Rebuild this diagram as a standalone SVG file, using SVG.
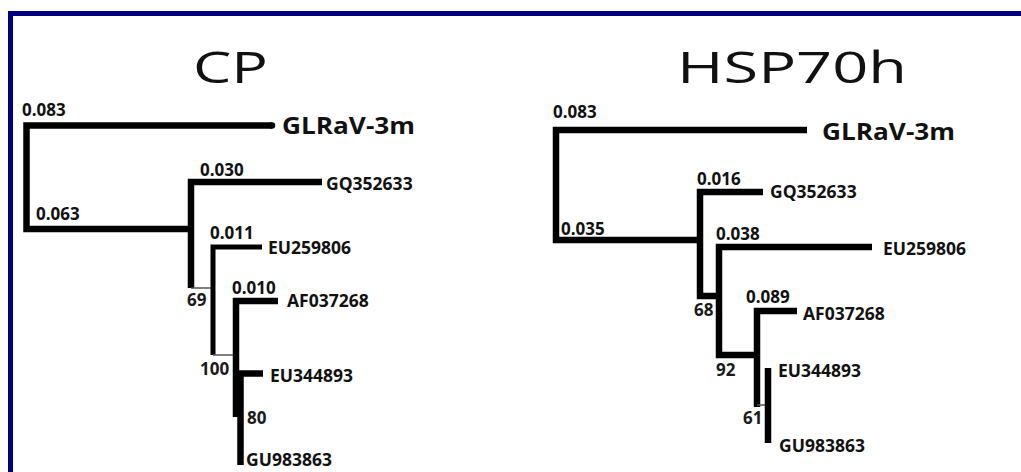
<svg xmlns="http://www.w3.org/2000/svg" width="1021" height="472" viewBox="0 0 1021 472">
<style>
.bg{fill:#ffffff}
.frame{fill:none;stroke:#00007f;stroke-width:5}
.br{fill:none;stroke:#000;stroke-width:6.5;stroke-linecap:butt;stroke-linejoin:miter}
.thin{fill:none;stroke:#555;stroke-width:1.5}
.title{font-family:"Open Sans","Liberation Sans",sans-serif;font-size:43px;font-weight:400;fill:#111}
.big{font-family:"Open Sans","Liberation Sans",sans-serif;font-size:24px;font-weight:700;fill:#111}
.lf{font-family:"Open Sans","Liberation Sans",sans-serif;font-size:17.5px;font-weight:700;fill:#111}
.len{font-family:"Open Sans","Liberation Sans",sans-serif;font-size:17px;font-weight:700;fill:#111}
.bs{font-family:"Open Sans","Liberation Sans",sans-serif;font-size:17px;font-weight:700;fill:#1a1a1a}
</style>
<rect class="bg" x="0" y="0" width="1021" height="472"/>
<rect class="frame" x="10.5" y="13.5" width="1100" height="500"/>

<g id="connectors">
  <!-- CP tree -->
  <path class="br" d="M272,125.5 H26.5 V229 H191"/>
  <path class="br" d="M322,182 H191 V288"/>
  <path class="thin" d="M191,288 H213"/>
  <path class="br" style="stroke-width:5" d="M262,247 H213 V355"/>
  <path class="thin" d="M213,355 H236"/>
  <path class="br" d="M278,301 H236 V417"/>
  <path class="br" d="M263,373.5 H240.5 V465"/>
  <circle cx="272" cy="125.5" r="3.25" fill="#000"/>
  <!-- HSP70h tree -->
  <path class="br" d="M807,130 H556 V240 H700"/>
  <path class="br" d="M763,192 H700 V296 H719"/>
  <path class="br" d="M872,247 H719 V355 H757"/>
  <path class="br" d="M797,311 H757 V407"/>
  <path class="thin" d="M757,405 H768"/>
  <path class="br" d="M768,368 V443"/>
</g>

<g id="title-cp"><text class="title" x="193" y="83" textLength="75" lengthAdjust="spacingAndGlyphs">CP</text></g>
<g id="title-hsp"><text class="title" x="677" y="83" textLength="230" lengthAdjust="spacingAndGlyphs">HSP70h</text></g>

<g id="cp-glrav"><text class="big" x="282" y="134" textLength="133" lengthAdjust="spacingAndGlyphs">GLRaV-3m</text></g>
<g id="cp-gq"><text class="lf" x="326" y="190">GQ352633</text></g>
<g id="cp-eu259"><text class="lf" x="268" y="254">EU259806</text></g>
<g id="cp-af"><text class="lf" x="287" y="307">AF037268</text></g>
<g id="cp-eu344"><text class="lf" x="270" y="382">EU344893</text></g>
<g id="cp-gu"><text class="lf" x="246" y="466">GU983863</text></g>
<g id="cp-lengths">
  <text class="len" x="22" y="116">0.083</text>
  <text class="len" x="36" y="220">0.063</text>
  <text class="len" x="200" y="176">0.030</text>
  <text class="len" x="210" y="239">0.011</text>
  <text class="len" x="232" y="294">0.010</text>
</g>
<g id="cp-bootstrap">
  <text class="bs" x="187" y="306">69</text>
  <text class="bs" x="200" y="375">100</text>
  <text class="bs" x="247" y="424">80</text>
</g>

<g id="hsp-glrav"><text class="big" x="822" y="140" textLength="133" lengthAdjust="spacingAndGlyphs">GLRaV-3m</text></g>
<g id="hsp-gq"><text class="lf" x="770" y="198">GQ352633</text></g>
<g id="hsp-eu259"><text class="lf" x="883" y="255">EU259806</text></g>
<g id="hsp-af"><text class="lf" x="803" y="320">AF037268</text></g>
<g id="hsp-eu344"><text class="lf" x="778" y="377">EU344893</text></g>
<g id="hsp-gu"><text class="lf" x="779" y="452">GU983863</text></g>
<g id="hsp-lengths">
  <text class="len" x="553" y="118">0.083</text>
  <text class="len" x="561" y="235">0.035</text>
  <text class="len" x="697" y="185">0.016</text>
  <text class="len" x="716" y="240">0.038</text>
  <text class="len" x="746" y="303">0.089</text>
</g>
<g id="hsp-bootstrap">
  <text class="bs" x="694" y="316">68</text>
  <text class="bs" x="716" y="376">92</text>
  <text class="bs" x="743" y="424">61</text>
</g>
</svg>
